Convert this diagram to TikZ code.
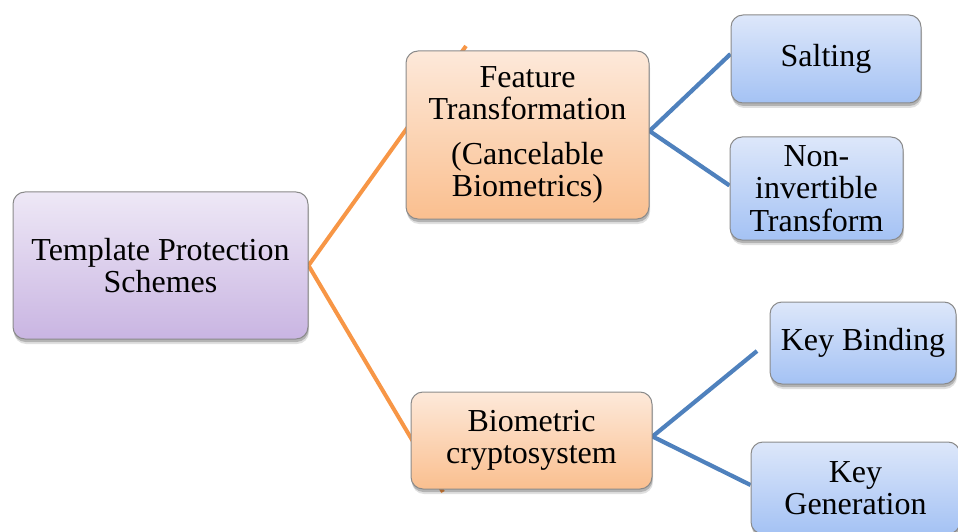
\documentclass[tikz,border=0pt]{standalone}
\usepackage{fontspec}
\setmainfont{Liberation Serif}
\usetikzlibrary{shadows,backgrounds,calc}

\definecolor{boxedge}{HTML}{8A8A8A}
\definecolor{violettop}{HTML}{EEE8F6}
\definecolor{violetbot}{HTML}{C9B5E2}
\definecolor{orangetop}{HTML}{FDE9DA}
\definecolor{orangebot}{HTML}{FABF8F}
\definecolor{bluetop}{HTML}{DDE7FA}
\definecolor{bluebot}{HTML}{A4C2F4}
\definecolor{orangeline}{HTML}{F79646}
\definecolor{blueline}{HTML}{4F81BD}

\begin{document}
\begin{tikzpicture}[x=1pt,y=1pt,
  box/.style={draw=boxedge, line width=1pt, rounded corners=12pt,
    align=center, inner sep=0pt,
    font=\fontsize{32}{32.5}\selectfont,
    drop shadow={shadow xshift=1pt, shadow yshift=-5pt, fill=black, opacity=0.12},
    drop shadow={shadow xshift=0.5pt, shadow yshift=-3pt, fill=black, opacity=0.2}},
  rootbox/.style={box, top color=violettop, bottom color=violetbot},
  midbox/.style={box, top color=orangetop, bottom color=orangebot},
  leafbox/.style={box, top color=bluetop, bottom color=bluebot},
  orangelink/.style={draw=orangeline, line width=4pt},
  bluelink/.style={draw=blueline, line width=4.2pt}]
\useasboundingbox (0,0) rectangle (958,531);

% boxes
\node[rootbox, minimum width=295pt, minimum height=147pt] (root) at (160.5,265.5)
  {Template Protection\\Schemes};
\node[midbox, minimum width=243pt, minimum height=168pt] (feat) at (527.5,396)
  {Feature\\Transformation\\[12pt](Cancelable\\Biometrics)};
\node[midbox, minimum width=241pt, minimum height=97pt] (bio) at (531.5,90.5)
  {Biometric\\cryptosystem};
\node[leafbox, minimum width=190pt, minimum height=88pt] (salt) at (826,472)
  {Salting};
\node[leafbox, minimum width=173pt, minimum height=103pt] (nin) at (816.5,342.5)
  {Non-\\invertible\\Transform};
\node[leafbox, minimum width=186pt, minimum height=82pt] (kbind) at (863,188)
  {Key Binding};
\node[leafbox, minimum width=209pt, minimum height=92pt] (kgen) at (855.5,43)
  {Key\\Generation};

% free ends of the connectors
\coordinate (ftail) at (466,485);
\coordinate (btail) at (443,39);
\coordinate (kbtail) at (757,180);

% connectors, drawn behind the boxes
\begin{scope}[on background layer]
  \draw[orangelink] (root.east) -- (ftail);
  \draw[orangelink] (root.east) -- (btail);
  \draw[bluelink] ($(salt.west)+(0,5)$) -- ($(feat.east)+(0,4)$) -- ($(nin.west)+(0,3)$);
  \draw[bluelink] (kbtail) -- ($(bio.east)+(0,4)$) -- ($(kgen.west)+(0,3)$);
\end{scope}
\end{tikzpicture}
\end{document}
